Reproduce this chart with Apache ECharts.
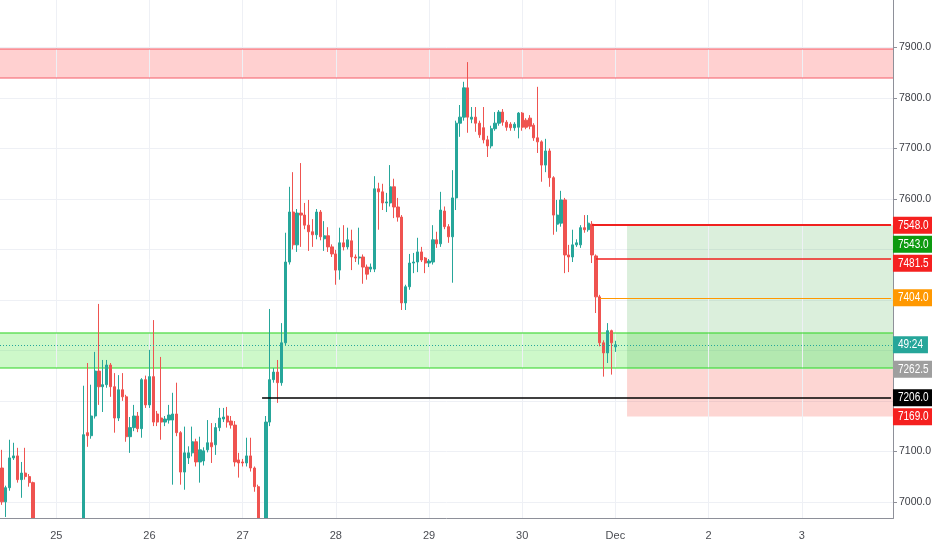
<!DOCTYPE html>
<html>
<head>
<meta charset="utf-8">
<script src="https://cdn.jsdelivr.net/npm/echarts@6/dist/echarts.min.js"></script>
<style>
html,body{margin:0;padding:0;background:#ffffff;}
#c{width:932px;height:550px;}
</style>
</head>
<body>
<div id="c"></div>
<script>
// ---------- data ----------
const startHourUTC = Date.UTC(2019, 10, 24, 10); // first hourly slot: 24 Nov 10:00
const slotCount = 230;                            // hourly slots shown on the time axis
const monthNames = ['Jan','Feb','Mar','Apr','May','Jun','Jul','Aug','Sep','Oct','Nov','Dec'];

// hourly candles [open, close, low, high]; null = candle entirely below the visible range
const candles = [
  [7067,7000,6994,7103],[7000,7028,6970,7032],[7028,7087,7022,7123],[7087,7091,7083,7117],
  [7091,7044,7038,7107],[7044,7057,7008,7079],[7057,7050,7044,7107],[7050,7038,7030,7055],
  [7038,6930,6920,7040],
  null,null,null,null,null,null,null,null,null,null,null,null,
  [6930,7133,6920,7230],[7137,7131,7109,7275],[7131,7170,7125,7232],[7170,7259,7165,7297],
  [7259,7228,7192,7392],[7228,7232,7178,7281],[7232,7271,7226,7281],[7271,7228,7208,7275],
  [7228,7166,7137,7255],[7166,7222,7160,7251],[7222,7208,7200,7255],[7208,7129,7119,7212],
  [7129,7147,7097,7168],[7147,7170,7140,7192],[7170,7145,7138,7178],[7145,7242,7127,7245],
  [7242,7192,7186,7250],[7192,7248,7186,7301],[7248,7158,7150,7360],[7174,7158,7150,7180],
  [7166,7158,7123,7287],[7158,7164,7150,7170],[7162,7172,7155,7192],[7162,7174,7034,7216],
  [7174,7137,7130,7236],[7137,7059,7034,7140],[7059,7097,7024,7149],[7087,7097,7075,7110],
  [7097,7119,7090,7149],[7119,7079,7070,7125],[7079,7103,7038,7129],[7081,7101,7072,7108],
  [7103,7117,7098,7162],[7117,7109,7077,7156],[7113,7147,7093,7156],[7147,7166,7140,7186],
  [7164,7168,7158,7186],[7170,7158,7147,7188],[7160,7152,7145,7170],[7152,7079,7070,7160],
  [7083,7077,7048,7097],[7079,7077,7070,7085],[7077,7091,7070,7127],[7091,7067,7060,7127],
  [7067,7030,7020,7070],[7030,6930,6920,7034],
  null,
  [6930,7158,6920,7170],[7158,7242,7150,7382],[7242,7257,7236,7265],[7257,7236,7196,7281],
  [7236,7315,7230,7354],[7315,7475,7310,7533],[7475,7574,7470,7624],[7574,7509,7500,7653],
  [7509,7572,7495,7580],[7572,7568,7505,7671],[7568,7548,7540,7592],[7548,7535,7497,7598],
  [7535,7529,7505,7560],[7529,7574,7520,7580],[7574,7525,7518,7578],[7521,7527,7497,7556],
  [7527,7505,7495,7544],[7505,7491,7485,7510],[7491,7459,7430,7499],[7459,7513,7440,7543],
  [7513,7505,7498,7548],[7505,7519,7500,7543],[7517,7485,7459,7539],[7485,7483,7475,7490],
  [7483,7485,7470,7543],[7485,7465,7432,7490],[7465,7451,7440,7470],[7461,7465,7455,7472],
  [7461,7620,7455,7645],[7620,7614,7539,7632],[7614,7592,7578,7630],[7592,7594,7574,7612],
  [7592,7624,7585,7667],[7624,7584,7562,7640],[7584,7564,7555,7602],[7564,7394,7380,7568],
  [7394,7426,7380,7430],[7426,7473,7420,7491],[7473,7475,7453,7493],[7475,7495,7455,7523],
  [7495,7479,7475,7505],[7483,7473,7453,7485],[7473,7477,7465,7481],[7475,7519,7470,7548],
  [7519,7511,7503,7535],[7511,7578,7505,7614],[7576,7545,7540,7585],[7545,7525,7513,7550],
  [7525,7602,7434,7657],[7602,7750,7578,7755],[7750,7762,7723,7786],[7762,7820,7755,7832],
  [7820,7762,7731,7871],[7758,7762,7750,7782],[7762,7750,7733,7782],[7750,7727,7721,7755],
  [7741,7717,7710,7782],[7717,7705,7683,7725],[7705,7739,7700,7745],[7739,7750,7735,7772],
  [7750,7772,7745,7776],[7772,7752,7745,7778],[7752,7742,7735,7756],[7748,7741,7735,7752],
  [7741,7748,7735,7752],[7742,7770,7720,7772],[7770,7742,7735,7772],[7756,7742,7738,7760],
  [7760,7744,7738,7766],[7746,7721,7715,7750],[7721,7713,7691,7822],[7713,7667,7634,7716],
  [7667,7695,7653,7719],[7695,7642,7624,7700],[7642,7568,7529,7645],[7550,7568,7535,7598],
  [7552,7598,7545,7616],[7598,7489,7453,7602],[7489,7485,7455,7509],[7485,7509,7475,7539],
  [7509,7513,7505,7520],[7509,7543,7503,7548],[7543,7539,7533,7568],[7539,7552,7535,7568],
  [7550,7489,7473,7556],[7487,7406,7374,7490],[7406,7315,7308,7410],[7315,7295,7248,7320],
  [7295,7339,7275,7354],[7339,7315,7252,7341],[7307,7311,7297,7319]
];

const yRange = [6967, 7994];
const resistanceZone = [7840, 7897];
const supportZone = [7265, 7335];
// horizontal rays: [start slot, price]
const blackRay = [67, 7206];
const redRayTop = [152, 7548];
const redRayMid = [153, 7481.5];
const orangeRay = [154, 7404];
// long position tool
const positionStartSlot = 161;
const positionEntry = 7262.5;
const positionTarget = 7548;
const positionStop = 7169;
const countdownText = '49:24';
// right-hand price tags (null price = last close)
const tagPrices = [7548, 7543, 7481.5, 7404, null, 7262.5, 7206, 7169];
const tagTexts  = ['7548.0','7543.0','7481.5','7404.0', countdownText,'7262.5','7206.0','7169.0'];
const tagColors = ['#f5201f','#0d9a10','#f5201f','#ff9800','#26a69a','#9e9e9e','#000000','#f5201f'];

// ---------- chart ----------
const FONT = '"Liberation Sans",Arial,sans-serif';
const UP = '#26a69a', DOWN = '#ef5350';
const cats = [];
for (let k = 0; k < slotCount; k++) {
  cats.push(new Date(startHourUTC + k * 3600000).toISOString().slice(0, 13));
}
const isMidnight = (idx) => cats[idx].slice(11, 13) === '00';
const dayLabel = (val) => {
  const d = new Date(val + ':00:00Z');
  return d.getUTCDate() === 1 ? monthNames[d.getUTCMonth()] : String(d.getUTCDate());
};
const dayIdx = cats.map((c, i) => i).filter(isMidnight);
const lastSlot = slotCount - 1;
const lastCandle = candles[candles.length - 1];
const lastPrice = lastCandle[1];
const tagValues = tagPrices.map((p) => (p == null ? lastPrice : p));
// the scale hides its own label where a price tag sits on top of it
const hiddenByTag = (v) => tagValues.some((p) => Math.abs(p - v) < 24);

const chart = echarts.init(document.getElementById('c'));
chart.setOption({
  animation: false,
  backgroundColor: '#ffffff',
  grid: { left: 0, right: 39, top: 0, bottom: 31.5, containLabel: false, outerBoundsMode: 'none' },
  xAxis: {
    type: 'category',
    z: 10,
    data: cats,
    boundaryGap: true,
    axisLine: { lineStyle: { color: '#8e9099', width: 1 } },
    axisTick: { interval: (i) => isMidnight(i), alignWithLabel: true, length: 4, lineStyle: { color: '#8e9099' } },
    axisLabel: { interval: (i) => isMidnight(i), formatter: dayLabel, color: '#4a4c52', fontSize: 11, margin: 12, fontFamily: FONT },
    splitLine: { show: false }
  },
  yAxis: {
    type: 'value',
    position: 'right',
    min: yRange[0],
    max: yRange[1],
    splitNumber: 10,
    axisLine: { show: true, lineStyle: { color: '#8e9099', width: 1 } },
    axisTick: { show: true, length: 4, lineStyle: { color: '#8e9099' } },
    axisLabel: { formatter: (v) => (hiddenByTag(v) ? '' : v.toFixed(1)), showMinLabel: false, showMaxLabel: false,
                 color: '#3b3d44', fontSize: 10.5, margin: 6, fontFamily: FONT },
    splitLine: { show: true, showMinLine: false, showMaxLine: false, lineStyle: { color: '#eef0f5', width: 1 } }
  },
  series: [
    {
      type: 'line',
      data: [],
      silent: true,
      markLine: {
        silent: true, z: 1, symbol: 'none', label: { show: false },
        lineStyle: { color: '#eef0f5', width: 1, type: 'solid' },
        data: dayIdx.map((i) => ({ xAxis: i })).concat([
          { yAxis: resistanceZone[0], lineStyle: { color: 'rgba(242,54,69,0.42)', width: 2, type: 'solid' } },
          { yAxis: resistanceZone[1], lineStyle: { color: 'rgba(242,54,69,0.42)', width: 2, type: 'solid' } },
          { yAxis: supportZone[0], lineStyle: { color: 'rgba(60,215,50,0.55)', width: 2, type: 'solid' } },
          { yAxis: supportZone[1], lineStyle: { color: 'rgba(60,215,50,0.55)', width: 2, type: 'solid' } }
        ])
      },
      markArea: {
        silent: true, z: 1, label: { show: false },
        data: [
          [{ yAxis: resistanceZone[0], itemStyle: { color: 'rgba(255,82,82,0.27)', borderWidth: 0 } }, { yAxis: resistanceZone[1] }],
          [{ yAxis: supportZone[0], itemStyle: { color: 'rgba(76,230,60,0.28)', borderWidth: 0 } }, { yAxis: supportZone[1] }],
          [{ xAxis: positionStartSlot, yAxis: positionEntry, itemStyle: { color: 'rgba(76,175,80,0.2)', borderWidth: 0 } }, { yAxis: positionTarget }],
          [{ xAxis: positionStartSlot, yAxis: positionStop, itemStyle: { color: 'rgba(244,67,54,0.22)', borderWidth: 0 } }, { yAxis: positionEntry }]
        ]
      }
    },
    {
      type: 'candlestick',
      clip: true,
      barWidth: '70%',
      data: candles.map((r) => r || ['-', '-', '-', '-']),
      itemStyle: { color: UP, color0: DOWN, borderColor: UP, borderColor0: DOWN, borderWidth: 1 },
      markLine: {
        silent: true, symbol: 'none', label: { show: false },
        data: [
          [{ xAxis: blackRay[0], yAxis: blackRay[1], lineStyle: { color: '#000000', width: 1.5, type: 'solid' } }, { xAxis: lastSlot, yAxis: blackRay[1] }],
          [{ xAxis: redRayTop[0], yAxis: redRayTop[1], lineStyle: { color: '#f0211f', width: 2, type: 'solid' } }, { xAxis: lastSlot, yAxis: redRayTop[1] }],
          [{ xAxis: redRayMid[0], yAxis: redRayMid[1], lineStyle: { color: '#f0211f', width: 1.5, type: 'solid' } }, { xAxis: lastSlot, yAxis: redRayMid[1] }],
          [{ xAxis: orangeRay[0], yAxis: orangeRay[1], lineStyle: { color: '#ff9800', width: 1, type: 'solid' } }, { xAxis: lastSlot, yAxis: orangeRay[1] }],
          { yAxis: lastPrice, lineStyle: { color: UP, width: 1, type: [1, 2] } }
        ]
      }
    }
  ]
});

// price tags on the right scale (positioned through the y axis, pushed apart when they collide)
const axisX = chart.convertToPixel({ xAxisIndex: 0 }, lastSlot) + 1.9;
const plotBottom = chart.convertToPixel({ yAxisIndex: 0 }, yRange[0]);
const tags = tagValues.map((v, k) => ({
  y: chart.convertToPixel({ yAxisIndex: 0 }, v),
  text: tagTexts[k], color: tagColors[k]
})).sort((a, b) => a.y - b.y);
for (let k = 1; k < tags.length; k++) {
  if (tags[k].y < tags[k - 1].y + 19) tags[k].y = tags[k - 1].y + 19;
}
const graphics = [
  // mask: hides the parts of candles that run below the visible price range
  { type: 'rect', z: 5, silent: true, shape: { x: 0, y: plotBottom + 0.5, width: axisX, height: 60 }, style: { fill: '#ffffff' } }
];
tags.forEach((t) => {
  graphics.push({ type: 'rect', z: 100, silent: true,
    shape: { x: axisX, y: t.y - 8.5, width: t.text.indexOf(':') >= 0 ? 35 : 40, height: 17 },
    style: { fill: t.color } });
  graphics.push({ type: 'text', z: 101, silent: true, x: axisX + 5, y: t.y, scaleX: 0.8,
    style: { text: t.text, fill: '#ffffff', font: '12.5px ' + FONT, verticalAlign: 'middle', align: 'left' } });
});
chart.setOption({ graphic: graphics });
</script>
</body>
</html>
